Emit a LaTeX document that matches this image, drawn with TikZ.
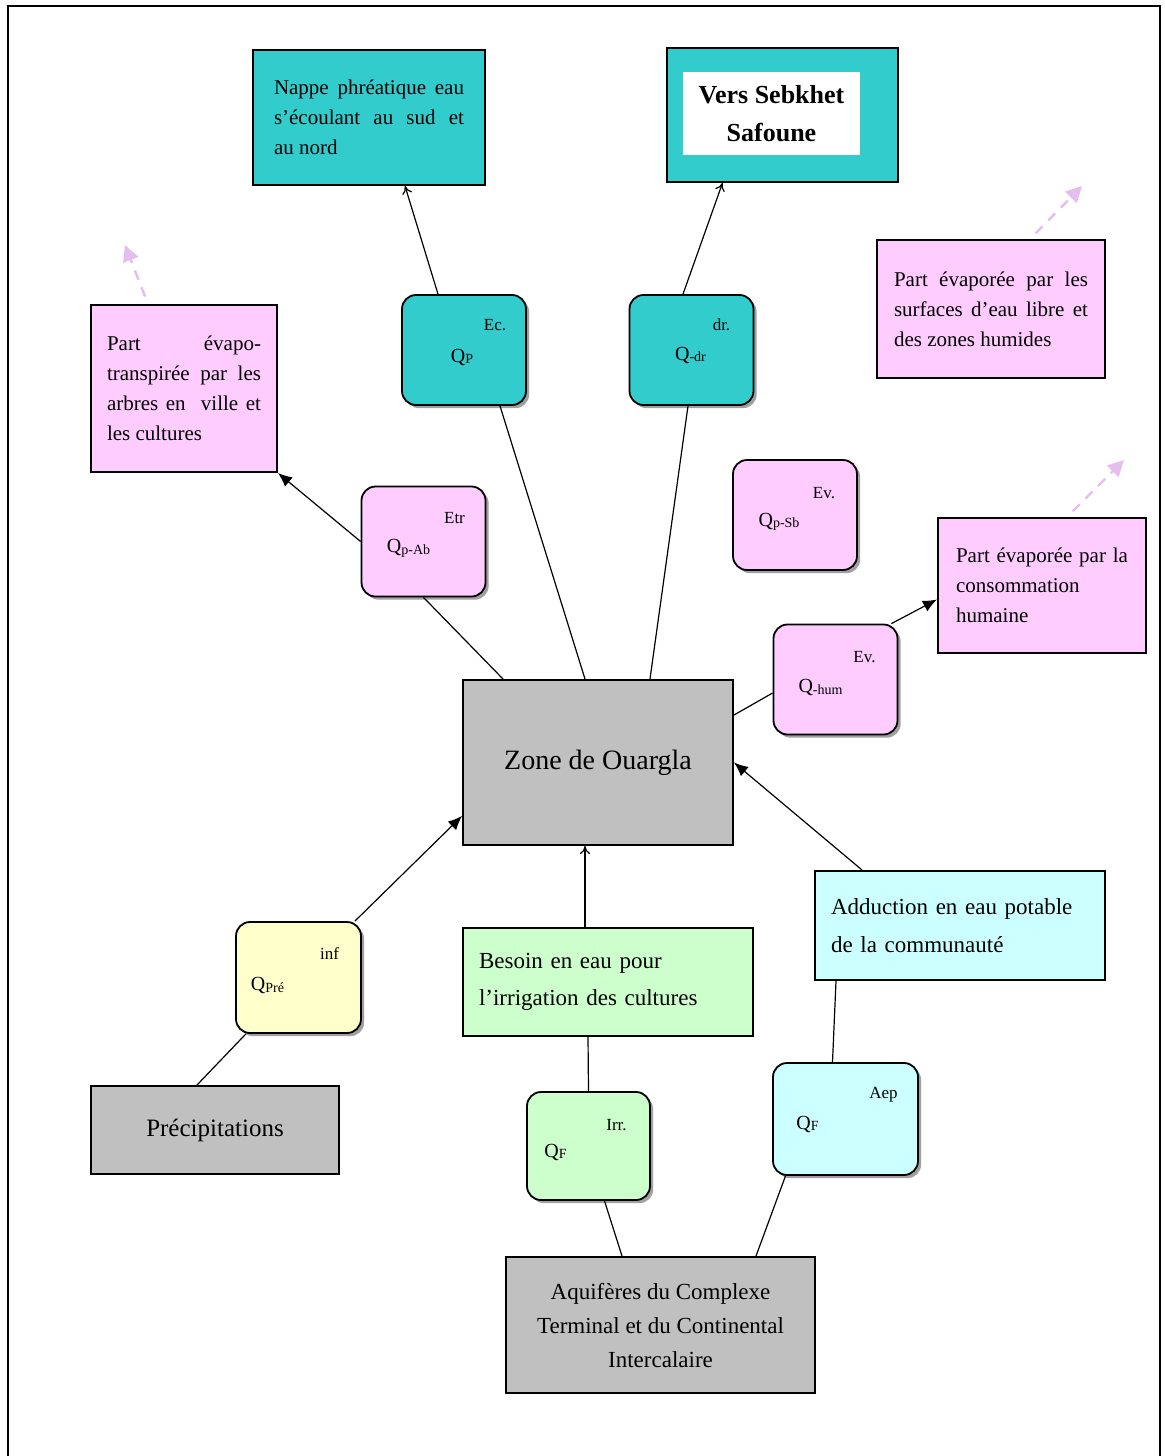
\documentclass[tikz,border=0pt]{standalone}
\usepackage{fontspec}
\setmainfont{Liberation Serif}
\usepackage{xcolor}
\usetikzlibrary{arrows.meta}
\usetikzlibrary{shadows}

\definecolor{turq}{RGB}{51,204,204}
\definecolor{rose}{RGB}{255,204,255}
\definecolor{gris}{RGB}{192,192,192}
\definecolor{jaune}{RGB}{255,255,204}
\definecolor{vert}{RGB}{204,255,204}
\definecolor{bleu}{RGB}{204,255,255}
\definecolor{faint}{RGB}{228,190,236}

\newcommand{\qsub}[1]{Q{\fontsize{7}{8}\selectfont\raisebox{-0.25ex}{#1}}}

\tikzset{
  box/.style={draw, line width=1pt, inner xsep=8pt, inner ysep=6pt},
  note/.style={box, align=justify, font=\fontsize{10.5}{15}\selectfont},
  qbox/.style={draw, line width=0.9pt, rounded corners=7pt, fill=#1,
    minimum width=62pt, minimum height=55pt,
    drop shadow={shadow xshift=1.6pt, shadow yshift=-1.6pt, opacity=0.75}},
  qname/.style={font=\fontsize{10}{12}\selectfont, inner sep=0pt},
  qsup/.style={font=\fontsize{8.5}{10}\selectfont, inner sep=0pt},
  flow/.style={line width=0.6pt},
  into/.style={flow, -{Latex[length=7pt,width=6pt]}},
  upto/.style={flow, -{To[length=4pt,width=5pt]}},
  loss/.style={faint, line width=1.2pt, dash pattern=on 5pt off 4pt,
    shorten <=4pt, -{Triangle[length=8pt,width=8pt]}}
}

\begin{document}
\begin{tikzpicture}[x=0.5pt, y=-0.5pt]
    \useasboundingbox (0,0) rectangle (1164,1456);
    \draw [line width=1pt] (8,1456) -- (8,6) -- (1160,6) -- (1160,1456);

    % outlets at the top
    \path (369,117.5) node [note, fill=turq, minimum width=116pt, minimum height=67.5pt,
	text width=95pt] (nappe)
	{Nappe phréatique eau\linebreak s'écoulant au sud et\linebreak au nord};
    \path (782.5,115) node [box, fill=turq, minimum width=115.5pt, minimum height=67pt] (vers) {};
    \path (771.5,113.5) node [fill=white, minimum width=88.5pt, minimum height=41.5pt,
	align=center, font=\bfseries\fontsize{13}{19}\selectfont] (versin) {Vers Sebkhet\\Safoune};

    % evaporation parts
    \path (184,388.5) node [note, fill=rose, minimum width=93pt, minimum height=83.5pt,
	text width=77pt] (etp)
	{Part évapo-\linebreak transpirée par les\linebreak arbres en\ \ ville et\linebreak les cultures};
    \path (991,309) node [note, fill=rose, minimum width=114pt, minimum height=69pt,
	text width=97pt] (evsurf)
	{Part évaporée par les\linebreak surfaces d'eau libre et\linebreak des zones humides};
    \path (1042,585.5) node [note, fill=rose, minimum width=104pt, minimum height=67.5pt,
	text width=86pt] (evhum)
	{Part évaporée par la\linebreak consommation\\humaine};

    % flows
    \path (464,350) node [qbox=turq] (qpec) {};
    \path (qpec.center) ++(31,-25) node [qsup] (qpecsup) {Ec.};
    \path (qpec.center) ++(-2,7) node [qname] (qpecname) {\qsub{P}};
    \path (691.5,350) node [qbox=turq] (qdr) {};
    \path (qdr.center) ++(30,-25) node [qsup] (qdrsup) {dr.};
    \path (qdr.center) ++(-1,5) node [qname] (qdrname) {\qsub{-dr}};
    \path (423.5,541.5) node [qbox=rose] (qpab) {};
    \path (qpab.center) ++(31,-23) node [qsup] (qpabsup) {Etr};
    \path (qpab.center) ++(-15,7) node [qname] (qpabname) {\qsub{p-Ab}};
    \path (795,515) node [qbox=rose] (qpsb) {};
    \path (qpsb.center) ++(29,-22) node [qsup] (qpsbsup) {Ev.};
    \path (qpsb.center) ++(-16,7) node [qname] (qpsbname) {\qsub{p-Sb}};
    \path (835.5,679.5) node [qbox=rose] (qhum) {};
    \path (qhum.center) ++(29,-22) node [qsup] (qhumsup) {Ev.};
    \path (qhum.center) ++(-15,8) node [qname] (qhumname) {\qsub{-hum}};
    \path (298.5,977.5) node [qbox=jaune, minimum width=62.5pt, minimum height=55.5pt] (qpre) {};
    \path (qpre.center) ++(31,-24) node [qsup] (qpresup) {inf};
    \path (qpre.center) ++(-31,8) node [qname] (qprename) {\qsub{Pré}};
    \path (588.5,1146) node [qbox=vert, minimum width=61.5pt, minimum height=54pt] (qfirr) {};
    \path (qfirr.center) ++(28,-21) node [qsup] (qfirrsup) {Irr.};
    \path (qfirr.center) ++(-33,6) node [qname] (qfirrname) {\qsub{F}};
    \path (845.5,1119) node [qbox=bleu, minimum width=72.5pt, minimum height=56pt] (qfaep) {};
    \path (qfaep.center) ++(38,-24) node [qsup] (qfaepsup) {Aep};
    \path (qfaep.center) ++(-38,5) node [qname] (qfaepname) {\qsub{F}};

    % the zone and its sources
    \path (598,762.5) node [box, fill=gris, minimum width=135pt, minimum height=82.5pt,
	font=\fontsize{14}{17}\selectfont] (zone) {Zone de Ouargla};
    \path (215,1130) node [box, fill=gris, minimum width=124pt, minimum height=44pt,
	font=\fontsize{12.5}{15}\selectfont] (precip) {Précipitations};
    \path (608,982) node [box, fill=vert, minimum width=145pt, minimum height=54pt,
	text width=129pt, align=left, font=\fontsize{11.5}{18.5}\selectfont] (besoin)
	{Besoin en eau pour\\l'irrigation des cultures};
    \path (960,925.5) node [box, fill=bleu, minimum width=145pt, minimum height=54.5pt,
	text width=129pt, align=left, font=\fontsize{11.5}{19}\selectfont] (aep)
	{Adduction en eau potable\\de la communauté};
    \path (660.5,1325) node [box, fill=gris, minimum width=154.5pt, minimum height=68pt,
	align=center, font=\fontsize{11.5}{17}\selectfont] (aquif)
	{Aquifères du Complexe\\Terminal et du Continental\\Intercalaire};

    \draw [flow] ([xshift=-6.5pt]zone.north) -- ([xshift=18pt]qpec.south);
    \draw [upto] ([xshift=-13pt]qpec.north) -- ([xshift=18pt]nappe.south);
    \draw [flow] ([xshift=26pt]zone.north) -- ([xshift=-1.75pt]qdr.south);
    \draw [upto] ([xshift=-4.25pt]qdr.north) -- ([xshift=-30pt]vers.south);
    \draw [flow] ([xshift=-47.5pt]zone.north) -- (qpab.south);
    \draw [into] (qpab.west) -- (etp.south east);
    \draw [flow] ([yshift=23.75pt]zone.east) -- ([yshift=-6.75pt]qhum.west);
    \draw [into] (qhum.45) -- ([yshift=-7pt]evhum.west);

    \draw [flow] ([xshift=-9pt]precip.north) -- (qpre.227);
    \draw [into] (qpre.45) -- ([yshift=15pt]zone.south west);
    \draw [upto] ([xshift=-11.5pt]besoin.north) -- ([xshift=-6.5pt]zone.south);
    \draw [into] ([xshift=-49pt]aep.north) -- (zone.east);
    \draw [flow] (qfirr.north) -- ([xshift=-10pt]besoin.south);
    \draw [flow] ([xshift=-6.5pt]qfaep.north) -- ([xshift=-62pt]aep.south);
    \draw [flow] ([xshift=-19.25pt]aquif.north) -- ([xshift=8pt]qfirr.south);
    \draw [flow] ([xshift=47.75pt]aquif.north) -- ([xshift=-30pt]qfaep.south);

    % faint evaporation arrows
    \coordinate (etpout) at (125,245);
    \coordinate (evsurfout) at (1082,186);
    \coordinate (evhumout) at (1124,460);
    \draw [loss] ([xshift=-18pt]etp.north) -- (etpout);
    \draw [loss] ([xshift=19.5pt]evsurf.north) -- (evsurfout);
    \draw [loss] ([xshift=12.5pt]evhum.north) -- (evhumout);
\end{tikzpicture}
\end{document}
